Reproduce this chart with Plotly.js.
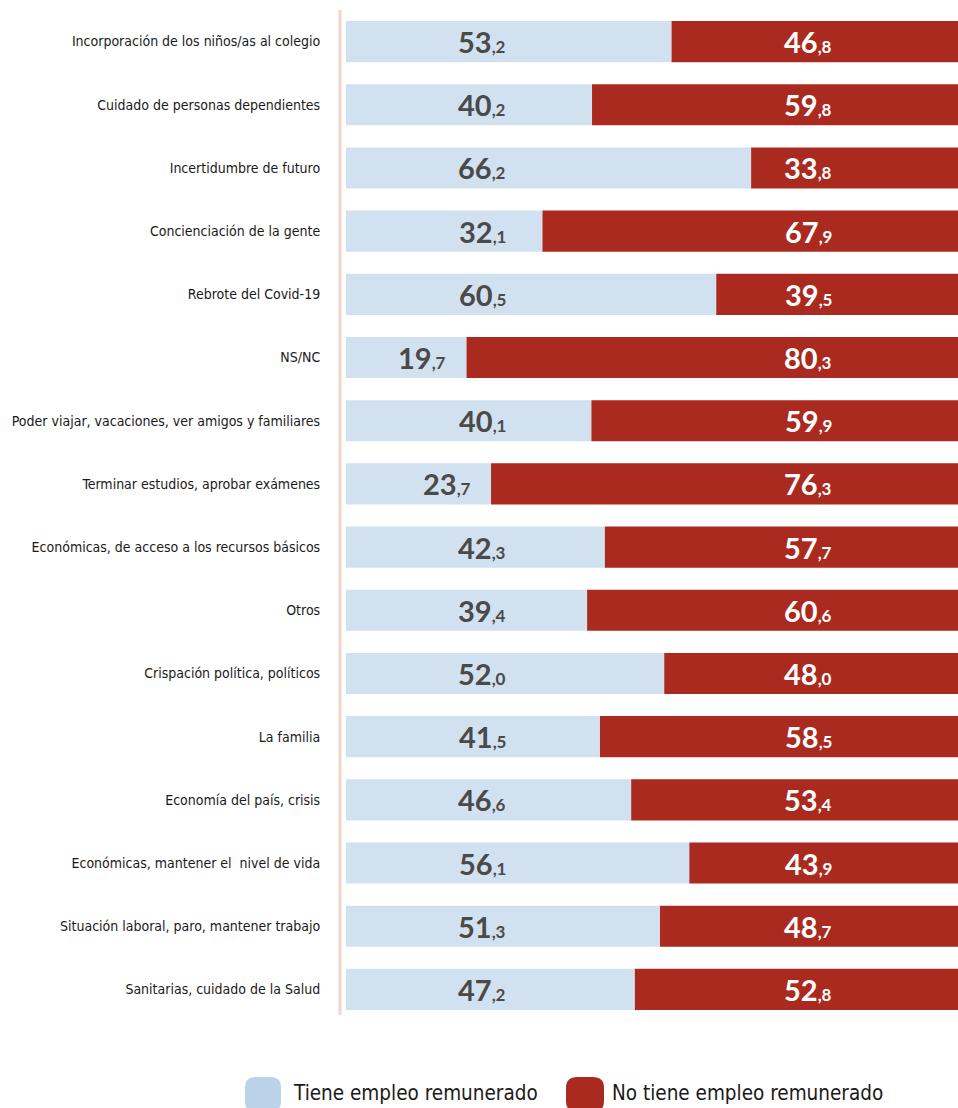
<!DOCTYPE html>
<html><head><meta charset="utf-8">
<script src="https://cdn.plot.ly/plotly-3.0.1.min.js"></script>
<style>html,body{margin:0;padding:0;background:#fff;}#chart{width:958px;height:1108px;}</style>
</head><body><div id="chart"></div>
<script>
const categories = [
  "Incorporación de los niños/as al colegio",
  "Cuidado de personas dependientes",
  "Incertidumbre de futuro",
  "Concienciación de la gente",
  "Rebrote del Covid-19",
  "NS/NC",
  "Poder viajar, vacaciones, ver amigos y familiares",
  "Terminar estudios, aprobar exámenes",
  "Económicas, de acceso a los recursos básicos",
  "Otros",
  "Crispación política, políticos",
  "La familia",
  "Economía del país, crisis",
  "Económicas, mantener el  nivel de vida",
  "Situación laboral, paro, mantener trabajo",
  "Sanitarias, cuidado de la Salud"
];
const tieneEmpleo = [53.2,40.2,66.2,32.1,60.5,19.7,40.1,23.7,42.3,39.4,52.0,41.5,46.6,56.1,51.3,47.2];
const noTieneEmpleo = [46.8,59.8,33.8,67.9,39.5,80.3,59.9,76.3,57.7,60.6,48.0,58.5,53.4,43.9,48.7,52.8];
const seriesNames = ["Tiene empleo remunerado","No tiene empleo remunerado"];
const colors = ["#d2e1ef","#ab2a20"];
const legendColors = ["#bad3e8","#ab2a20"];

const numFont = "Lato, 'Open Sans', sans-serif";
const labelFont = "'DejaVu Sans Condensed', 'Liberation Sans Narrow', sans-serif";

function fmt(v){
  const s = v.toFixed(1).split(".");
  return "<b>"+s[0]+"</b><b><span style='font-size:17px'>,"+s[1]+"</span></b>";
}

const traces = [
  {type:"bar", orientation:"h", name:seriesNames[0], y:categories, x:tieneEmpleo,
   marker:{color:colors[0]}, hoverinfo:"skip"},
  {type:"bar", orientation:"h", name:seriesNames[1], y:categories, x:noTieneEmpleo,
   base:tieneEmpleo, marker:{color:colors[1]}, hoverinfo:"skip"}
];

const annotations = [];
categories.forEach((c,i)=>{
  annotations.push({x:Math.min(26.5, tieneEmpleo[i]-3), y:c, xref:"x", yref:"y",
    text:fmt(tieneEmpleo[i]), showarrow:false, xanchor:"right", yanchor:"middle",
    font:{family:numFont, size:29, color:"#4a4a4a"}});
  annotations.push({x:75.5, y:c, xref:"x", yref:"y",
    text:fmt(noTieneEmpleo[i]), showarrow:false, xanchor:"center", yanchor:"middle",
    font:{family:numFont, size:29, color:"#ffffff"}});
});

const L=346, W=612, T=10, H=1011;
const px=x=>(x-L)/W, py=y=>(T+H-y)/H;
const legendItems = [{sq:[245,281], tx:291},{sq:[566,604], tx:610}];
const shapes = [
  {type:"line", xref:"paper", yref:"paper", x0:px(340), x1:px(340), y0:py(1015), y1:1,
   line:{color:"#f2d6cc", width:3}}
];
legendItems.forEach((it,k)=>{
  const x0=px(it.sq[0]), x1=px(it.sq[1]), y0=py(1112), y1=py(1077);
  const rx=(x1-x0)*0.3, ry=(y1-y0)*0.3;
  shapes.push({type:"path", xref:"paper", yref:"paper", fillcolor:legendColors[k], line:{width:0},
    path:`M ${x0+rx},${y0} L ${x1-rx},${y0} Q ${x1},${y0} ${x1},${y0+ry} L ${x1},${y1-ry} Q ${x1},${y1} ${x1-rx},${y1} L ${x0+rx},${y1} Q ${x0},${y1} ${x0},${y1-ry} L ${x0},${y0+ry} Q ${x0},${y0} ${x0+rx},${y0} Z`});
  annotations.push({xref:"paper", yref:"paper", x:px(it.tx), y:py(1093), xanchor:"left", yanchor:"middle",
    text:seriesNames[k], showarrow:false, font:{family:labelFont, size:20.5, color:"#1a1a1a"}});
});

const layout = {
  width:958, height:1108,
  margin:{l:L, r:0, t:T, b:1108-T-H, pad:0},
  barmode:"overlay", bargap:0.35,
  showlegend:false,
  paper_bgcolor:"#ffffff", plot_bgcolor:"#ffffff",
  xaxis:{range:[0,100], visible:false, fixedrange:true},
  yaxis:{type:"category", autorange:"reversed", showgrid:false, zeroline:false, showline:false,
    ticks:"outside", ticklen:22, tickcolor:"rgba(0,0,0,0)",
    tickfont:{family:labelFont, size:14, color:"#1a1a1a"}},
  annotations:annotations, shapes:shapes
};
Plotly.newPlot("chart", traces, layout, {displayModeBar:false, staticPlot:true});
</script></body></html>
